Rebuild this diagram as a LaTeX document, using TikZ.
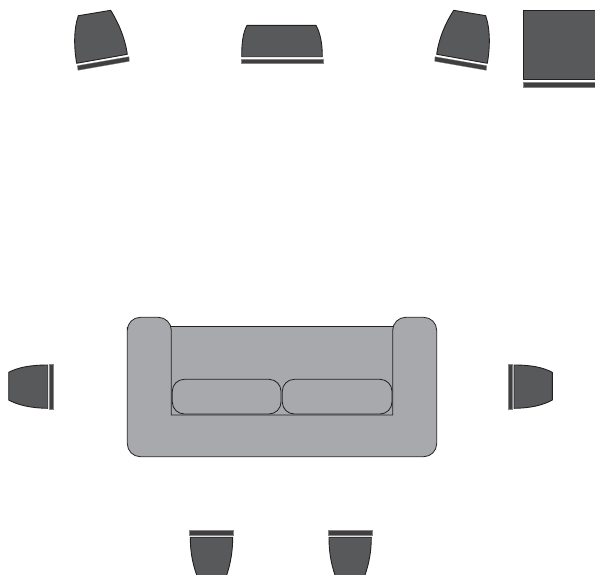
\documentclass[tikz,border=0pt]{standalone}
\usepackage{xcolor}
\definecolor{spkgray}{HTML}{58595B}
\definecolor{sofagray}{HTML}{A7A9AC}
\definecolor{inkline}{HTML}{231F20}
\tikzset{
  spk/.style ={draw=inkline, line width=0.9pt, fill=spkgray, line join=round},
  bar/.style ={draw=inkline!55!white, line width=0.3pt, fill=spkgray!55!inkline},
  sofa/.style={draw=inkline, line width=0.8pt, fill=sofagray},
  cush/.style={sofa, rounded corners=12pt},
}
\begin{document}
\begin{tikzpicture}[x=1pt, y=-1pt]
  \useasboundingbox (0,0) rectangle (595,574);
  % front row
  \draw[spk] (78.3,15.7) -- (110.7,10.3) .. controls (119,24) and (125,38) .. (127.3,54.3)
    -- (76.7,63.3) .. controls (74,48) and (73.5,30) .. cycle;
  \draw[bar] (77.3,65.7) -- (129,56.7) -- (129.3,61.3) -- (78,70.3) -- cycle;
  \draw[spk] (247,25.3) -- (316,25.3) .. controls (320,33) and (322.3,42) .. (322.3,56.7)
    -- (241.7,56.7) .. controls (241.7,42) and (243,33) .. cycle;
  \draw[bar] (241.3,59) rectangle (322.7,63.3);
  \draw[spk] (485.7,15.7) -- (453.7,10.3) .. controls (445,24) and (439,38) .. (436.7,54.3)
    -- (487.3,63.3) .. controls (490,48) and (490.5,30) .. cycle;
  \draw[bar] (435,56.7) -- (486.7,65.7) -- (486.3,70.3) -- (434.7,61.3) -- cycle;
  \draw[spk] (523,10.7) rectangle (596,79);
  \draw[bar] (522.7,82.3) rectangle (596,87);
  % sofa
  \fill[sofagray] (171.3,326.7) rectangle (392.7,415);
  \draw[sofa] (171.3,326.7) -- (392.7,326.7);
  \draw[sofa, rounded corners=13pt] (127.3,340) -- (127.3,317.3) -- (171.3,317.3)
    [sharp corners] -- (171.3,340) -- (171.3,415) -- (392.7,415) -- (392.7,340)
    [rounded corners=13pt] -- (392.7,317.3) -- (436.7,317.3) -- (436.7,456.7) -- (127.3,456.7) -- cycle;
  \draw[cush] (172.3,379.3) rectangle (281,414);
  \draw[cush] (282.3,379.3) rectangle (392,414);
  % sides
  \draw[spk] (47.7,365) -- (47.7,408.3) .. controls (30,408) and (18,405) .. (8.7,400)
    -- (8.7,372.3) .. controls (18,367.5) and (30,365) .. cycle;
  \draw[bar] (49.3,364.3) rectangle (53.3,408.7);
  \draw[spk] (514,365) -- (514,408.3) .. controls (532,408) and (543,405) .. (552.3,400)
    -- (552.3,372.3) .. controls (543,367.5) and (532,365) .. cycle;
  \draw[bar] (508.3,364.3) rectangle (512.3,408.7);
  % rear row
  \draw[spk] (196.7,575) .. controls (192,562) and (190.3,550) .. (190.3,537.2) -- (232.7,537.2)
    .. controls (232.7,550) and (231,562) .. (226.7,575);
  \draw[bar] (189.3,530.3) rectangle (233.3,534.8);
  \draw[spk] (335,575) .. controls (330.5,562) and (329,550) .. (329,537.2) -- (371.3,537.2)
    .. controls (371.3,550) and (369.5,562) .. (365,575);
  \draw[bar] (328,530.3) rectangle (372,534.8);
\end{tikzpicture}
\end{document}
